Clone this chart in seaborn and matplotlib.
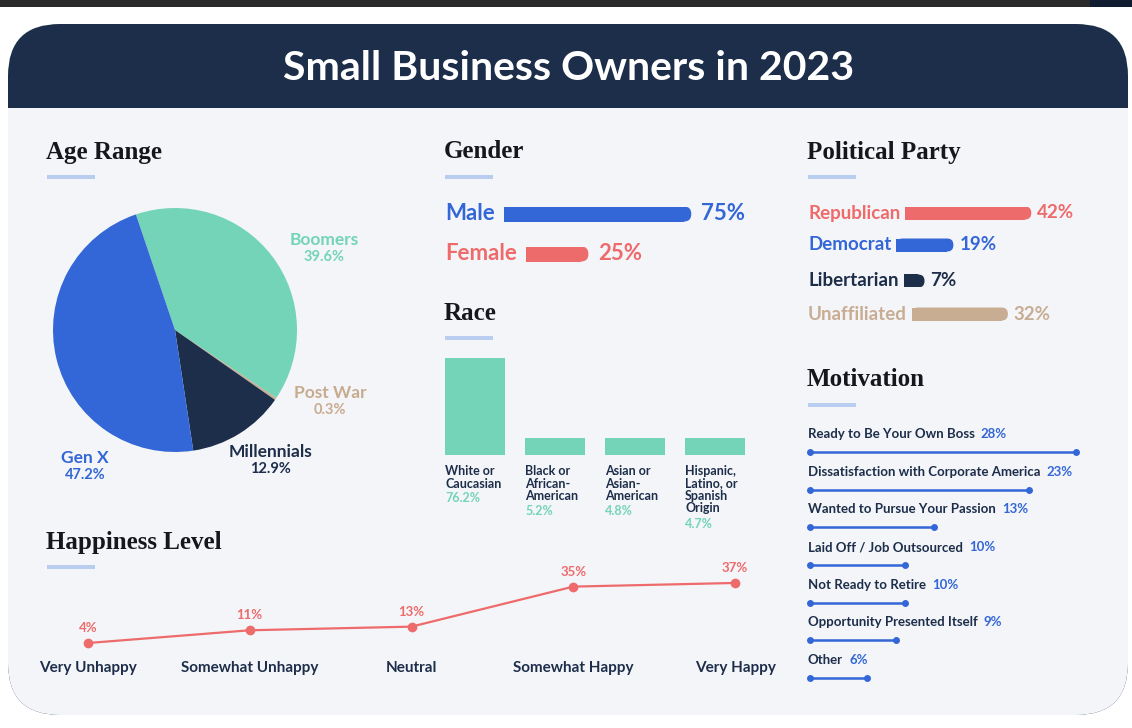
import numpy as np
import pandas as pd
import matplotlib
matplotlib.use("Agg")
import matplotlib.pyplot as plt
import seaborn as sns
from matplotlib.patches import FancyBboxPatch, Rectangle

age_labels = ["Boomers", "Post War", "Millennials", "Gen X"]
age_values = [39.6, 0.3, 12.9, 47.2]

gender_labels = ["Male", "Female"]
gender_values = [75, 25]

race_labels = ["White or\nCaucasian", "Black or\nAfrican-\nAmerican",
               "Asian or\nAsian-\nAmerican", "Hispanic,\nLatino, or\nSpanish\nOrigin"]
race_values = [76.2, 5.2, 4.8, 4.7]

party_labels = ["Republican", "Democrat", "Libertarian", "Unaffiliated"]
party_values = [42, 19, 7, 32]

happy_labels = ["Very Unhappy", "Somewhat Unhappy", "Neutral", "Somewhat Happy", "Very Happy"]
happy_values = [4, 11, 13, 35, 37]

motive_labels = ["Ready to Be Your Own Boss", "Dissatisfaction with Corporate America",
                 "Wanted to Pursue Your Passion", "Laid Off / Job Outsourced",
                 "Not Ready to Retire", "Opportunity Presented Itself", "Other"]
motive_values = [28, 23, 13, 10, 10, 9, 6]

# ---- colours ----
NAVY = "#1d2e4a"
BLUE = "#3366d6"
MINT = "#74d4b8"
RED = "#ee6b6b"
TAN = "#c8ad93"
BG = "#f4f5f9"
RULE = "#b9cdf1"
INK = "#15171c"

sns.set_theme(style="white")
plt.rcParams["font.family"] = ["Lato", "DejaVu Sans"]

W, H = 1132, 728
fig = plt.figure(figsize=(W / 100, H / 100), dpi=100)
renderer = fig.canvas.get_renderer()


def px_box(x, y, w, h):
    # pixel box (top-left origin) -> figure fraction
    return [x / W, 1 - (y + h) / H, w / W, h / H]


def pt(px):
    return px * 72 / 100


# overlay axes in pixel units for the panel and free text
ax0 = fig.add_axes([0, 0, 1, 1])
ax0.set_xlim(0, W)
ax0.set_ylim(H, 0)
ax0.axis("off")

ax0.add_patch(Rectangle((0, 0), W, 7, fc="#2b2b2b", ec="none"))
ax0.add_patch(Rectangle((1090, 0), 42, 7, fc="#101c30", ec="none"))
ax0.add_patch(FancyBboxPatch((8, 24), 1120, 691, boxstyle="round,pad=0,rounding_size=52",
                             fc=NAVY, ec="none"))
ax0.add_patch(FancyBboxPatch((8, 108), 1120, 607, boxstyle="round,pad=0,rounding_size=52",
                             fc=BG, ec="none"))
ax0.add_patch(Rectangle((8, 108), 1120, 80, fc=BG, ec="none"))
ax0.text(569, 69, "Small Business Owners in 2023", ha="center", va="center",
         color="white", fontsize=29.5, fontweight="bold")


def header(x, y, s):
    ax0.text(x - 1, y, s, fontfamily="Liberation Serif", fontweight="bold", fontsize=18,
             color=INK, va="center")
    ax0.add_patch(Rectangle((x, y + 23), 48, 4, fc=RULE, ec="none"))


header(47, 152, "Age Range")
header(445, 152, "Gender")
header(445, 313, "Race")
header(808, 152, "Political Party")
header(808, 380, "Motivation")
header(47, 542, "Happiness Level")


def round_end(ax, px_per_x, px_per_y):
    # square left end, rounded right end
    for p in list(ax.patches):
        x0, y0, w, h = p.get_x(), p.get_y(), p.get_width(), p.get_height()
        r = 0.48 * abs(h) * px_per_y / px_per_x
        p.set_width(max(w - r, 0))
        ax.add_patch(FancyBboxPatch((x0, y0), w, h,
                                    boxstyle=f"round,pad=0,rounding_size={r}",
                                    mutation_aspect=px_per_x / px_per_y,
                                    fc=p.get_facecolor(), ec="none"))


def bar_row(label, value, color, x, y, fs, bar_h, scale, gap):
    t = ax0.text(x, y, label, fontsize=fs, fontweight="bold", color=color, va="center")
    ext = t.get_window_extent(renderer)
    left = ext.x1 + gap
    ax = fig.add_axes(px_box(left, y - bar_h / 2, scale * 100, bar_h))
    sns.barplot(x=[value], y=[label], orient="h", color=color, saturation=1,
                width=1, linewidth=0, ax=ax)
    ax.set_xlim(0, 100)
    ax.set_ylim(0.5, -0.5)
    ax.axis("off")
    ax.patch.set_alpha(0)
    round_end(ax, scale, bar_h)
    ax.annotate(f"{value}%", xy=(value, 0), xytext=(pt(gap + 1), 0),
                textcoords="offset points", va="center", fontsize=fs,
                fontweight="bold", color=color, annotation_clip=False)


# ---- Age range pie ----
axp = fig.add_axes(px_box(53, 208, 244, 244))
axp.pie(age_values, colors=[MINT, TAN, NAVY, BLUE], startangle=108.7,
        counterclock=False, radius=1, wedgeprops=dict(linewidth=0))
axp.set_xlim(-1, 1)
axp.set_ylim(-1, 1)
axp.set_aspect("equal")

age_text_xy = [(324, 240), (330, 393), (270, 452), (85, 458)]
age_text_col = [MINT, "#c8ab8f", NAVY, BLUE]
for name, val, col, (lx, ly) in zip(age_labels, age_values, age_text_col, age_text_xy):
    ax0.text(lx, ly, name, ha="center", va="center", fontsize=12.5, fontweight="bold", color=col)
    ax0.text(lx, ly + 17, f"{val}%", ha="center", va="center", fontsize=10.5,
             fontweight="bold", color=col)

# ---- Gender ----
for name, val, col, y in zip(gender_labels, gender_values, [BLUE, RED], [214, 254]):
    bar_row(name, val, col, 445, y, 16, 15, 2.5, 9)

# ---- Political party ----
for name, val, col, y in zip(party_labels, party_values, [RED, BLUE, NAVY, TAN],
                             [213, 245, 281, 314]):
    bar_row(name, val, col, 808, y, 13.5, 13, 3.0, 5)

# ---- Race ----
axr = fig.add_axes(px_box(435, 355, 320, 100))
sns.barplot(x=race_labels, y=race_values, color=MINT, saturation=1, width=0.75,
            linewidth=0, ax=axr)
axr.set_xlim(-0.5, 3.5)
axr.set_ylim(-10, 79)
axr.axis("off")
axr.patch.set_alpha(0)
for p, name, val in zip(axr.patches, race_labels, race_values):
    p.set_y(-10)
    p.set_height(p.get_height() + 10)
    t = axr.annotate(name, xy=(p.get_x(), -10), xytext=(0, -pt(10)), textcoords="offset points",
                     ha="left", va="top", fontsize=9, fontweight="bold", color=NAVY,
                     linespacing=1.05, annotation_clip=False)
    axr.annotate(f"{val}%", xy=(0, 0), xycoords=t, xytext=(0, -pt(3)),
                 textcoords="offset points", ha="left", va="top", fontsize=9,
                 fontweight="bold", color=MINT, annotation_clip=False)

# ---- Happiness ----
axh = fig.add_axes(px_box(7, 577.5, 809, 72.8))
sns.lineplot(x=happy_labels, y=happy_values, sort=False, color=RED, linewidth=1.6,
             marker="o", markersize=7, markeredgewidth=0, ax=axh)
axh.set_xlim(-0.5, 4.5)
axh.set_ylim(0, 40)
sns.despine(ax=axh, left=True, bottom=True)
axh.patch.set_alpha(0)
axh.set_yticks([])
axh.set_xlabel("")
axh.set_ylabel("")
axh.tick_params(axis="x", length=0, pad=pt(11), labelsize=11, labelcolor=NAVY)
for lab in axh.get_xticklabels():
    lab.set_fontweight("bold")
for i, v in enumerate(happy_values):
    axh.annotate(f"{v}%", xy=(i, v), xytext=(0, pt(9)), textcoords="offset points",
                 ha="center", va="bottom", fontsize=9.5, fontweight="bold", color=RED,
                 annotation_clip=False)

# ---- Motivation ----
motive_df = pd.DataFrame({
    "row": np.repeat(np.arange(len(motive_values)), 2),
    "pct": np.ravel([[0, v] for v in motive_values]),
})
axm = fig.add_axes(px_box(810, 414.3, 290, 282.7))
sns.lineplot(data=motive_df, x="pct", y="row", units="row", estimator=None,
             color=BLUE, linewidth=1.8, marker="o", markersize=5, markeredgewidth=0,
             clip_on=False, ax=axm)
axm.set_xlim(0, 290 / 9.5)
axm.set_ylim(6.5, -1)
axm.axis("off")
axm.patch.set_alpha(0)
for i, (name, v) in enumerate(zip(motive_labels, motive_values)):
    t = axm.annotate(name, xy=(0, i), xytext=(-pt(2), pt(18)), textcoords="offset points",
                     ha="left", va="center", fontsize=9.5, fontweight="bold", color=NAVY,
                     annotation_clip=False)
    axm.annotate(f"{v}%", xy=(1, 0.5), xycoords=t, xytext=(pt(6), 0),
                 textcoords="offset points", ha="left", va="center", fontsize=9.5,
                 fontweight="bold", color=BLUE, annotation_clip=False)

fig.savefig("out.png", dpi=100)
